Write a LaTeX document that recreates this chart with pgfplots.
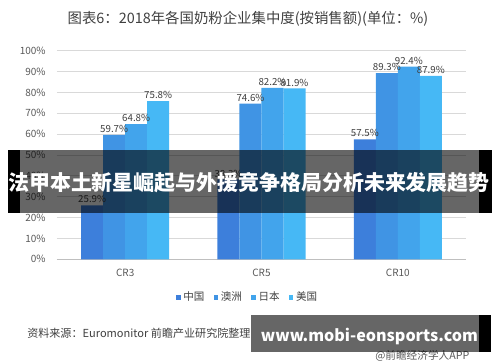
\documentclass[border=0pt]{standalone}
\usepackage{pgfplots}
\pgfplotsset{compat=1.18}
\usepackage{fontspec}
\setmainfont{Noto Sans CJK SC}
\definecolor{cCN}{RGB}{61,127,219}
\definecolor{cAU}{RGB}{64,148,228}
\definecolor{cJP}{RGB}{66,164,236}
\definecolor{cUS}{RGB}{70,184,245}
\definecolor{txt}{RGB}{89,89,89}
\definecolor{dtxt}{RGB}{64,64,64}
\begin{document}
\begin{tikzpicture}
\path[use as bounding box] (0,0) rectangle (375pt,271.5pt);
\begin{axis}[
  at={(42.75pt,77.03pt)}, anchor=south west,
  scale only axis, width=306.75pt, height=156.45pt,
  ybar=0pt, bar width=16.5pt,
  xmin=-0.5, xmax=2.5, ymin=0, ymax=100,
  xtick={0,1,2}, xticklabels={CR3,CR5,CR10},
  ytick={0,10,...,100},
  yticklabel={\pgfmathprintnumber{\tick}\%},
  /pgf/number format/assume math mode=true,
  ymajorgrids, grid style={draw=black!15, line width=0.6pt},
  axis x line*=bottom, axis y line*=left,
  y axis line style={draw=none},
  x axis line style={draw=black!25, line width=0.6pt},
  major tick length=0pt,
  tick label style={font=\fontsize{7.5}{9}\selectfont, text=txt},
  xticklabel style={yshift=-4pt},
  yticklabel style={xshift=-5pt},
  nodes near coords={\pgfmathprintnumber[fixed,fixed zerofill,precision=1]{\pgfplotspointmeta}\%},
  every node near coord/.append style={font=\fontsize{7.3}{9}\selectfont, text=dtxt, inner sep=1.5pt},
  legend style={at={(0.467,-0.182)}, anchor=center, draw=none, fill=none,
    legend columns=4, font=\fontsize{7.9}{9}\selectfont, text=dtxt,
    /tikz/every even column/.append style={column sep=5pt},
    inner sep=0pt},
  legend image code/.code={\fill[#1,draw=none] (0pt,-1.7pt) rectangle (3.4pt,1.7pt);},
]
\addplot[fill=cCN, draw=none] coordinates {(0,25.9) (1,38.3) (2,57.5)};
\addplot[fill=cAU, draw=none] coordinates {(0,59.7) (1,74.6) (2,89.3)};
\addplot[fill=cJP, draw=none] coordinates {(0,64.8) (1,82.2) (2,92.4)};
\addplot[fill=cUS, draw=none] coordinates {(0,75.8) (1,81.9) (2,87.9)};
\legend{中国,澳洲,日本,美国}
\end{axis}
\begin{scope}[x=0.75pt,y=-0.75pt,shift={(0,271.5pt)}]
  \node[font=\fontsize{10.8}{12}\selectfont, text=dtxt] at (248,19) {图表6：2018年各国奶粉企业集中度(按销售额)(单位：\%)};
  \node[font=\fontsize{8.3}{10}\selectfont, text=dtxt, anchor=west, inner sep=0pt] at (27,333) {资料来源：Euromonitor 前瞻产业研究院整理};
  \node[font=\fontsize{8}{10}\selectfont, text=txt, anchor=west, inner sep=0pt] at (375,356) {@前瞻经济学人APP};
  % top banner
  \fill[black] (8,150) rectangle (20,212.7);
  \fill[black] (479,150) rectangle (492,212.7);
  \fill[black, opacity=0.6] (20,150) rectangle (479,212.7);
  \node[font=\fontsize{15.7}{17}\bfseries\selectfont, text=white, inner sep=0pt] at (249,182.5) {法甲本土新星崛起与外援竞争格局分析未来发展趋势};
  % bottom banner
  \fill[black, opacity=0.6] (251,315) rectangle (479,352);
  \fill[black] (479,315) rectangle (491,352);
  \node[inner sep=0pt, text=white] at (369.5,336.5) {\resizebox{162.75pt}{!}{\bfseries www.mobi-eonsports.com}};
\end{scope}
\end{tikzpicture}
\end{document}
